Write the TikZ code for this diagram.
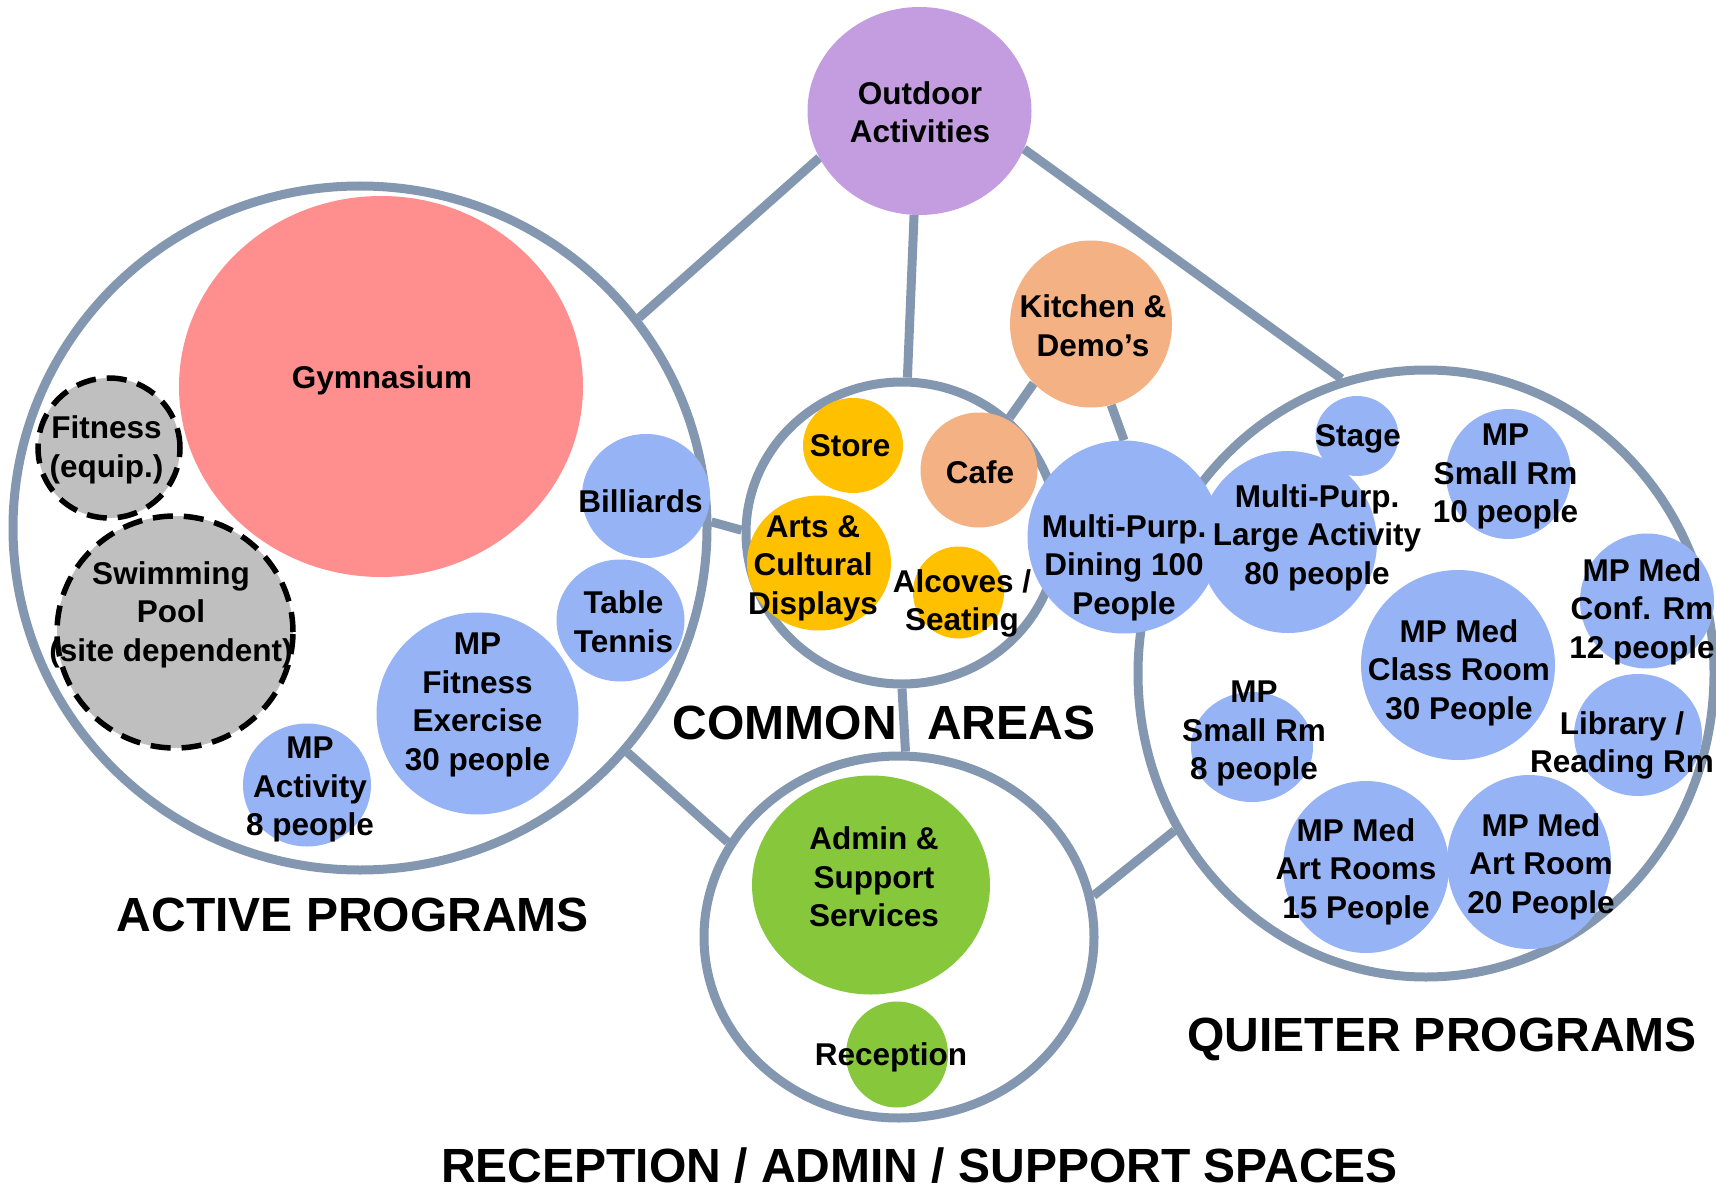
\documentclass[tikz,border=0pt]{standalone}
\usepackage{fontspec}
\setmainfont{Liberation Sans}
\usetikzlibrary{shapes.geometric,backgrounds}
\definecolor{ringc}{HTML}{8497B0}
\definecolor{pinkc}{HTML}{FF8F8F}
\definecolor{purpc}{HTML}{C39DE0}
\definecolor{orangec}{HTML}{F4B183}
\definecolor{goldc}{HTML}{FFC000}
\definecolor{bluec}{HTML}{96B3F6}
\definecolor{greenc}{HTML}{86C73B}
\definecolor{grayc}{HTML}{BFBFBF}
\tikzset{
  ring/.style={ellipse, draw=ringc, line width=9pt, inner sep=0pt},
  blob/.style={ellipse, fill=#1, draw=none, inner sep=0pt},
  dashblob/.style={ellipse, fill=grayc, draw=black, line width=5.5pt, dash pattern=on 20pt off 11pt, inner sep=0pt},
  conn/.style={draw=ringc, line width=9pt},
  txt/.style={align=center, inner sep=0pt, yshift=-3.5pt, font=\fontsize{31.5}{38.5}\selectfont\bfseries},
  captxt/.style={inner sep=0pt, font=\fontsize{48}{56}\selectfont\bfseries},
}
\begin{document}
\begin{tikzpicture}[x=1pt,y=-1pt]
\useasboundingbox (0,0) rectangle (1716,1190);
% rings
\node[ring, minimum width=694pt, minimum height=684pt] (active) at (360,528) {};
\node[ring, minimum width=312pt, minimum height=302pt] (common) at (902,533) {};
\node[ring, minimum width=390pt, minimum height=362pt] (recep) at (899,937) {};
\node[ring, minimum width=576pt, minimum height=607pt] (quiet) at (1426,673.5) {};
% circles
\node[blob=purpc, minimum width=224pt, minimum height=208pt] (outdoor) at (919.5,111) {};
\node[blob=pinkc, minimum width=404pt, minimum height=381pt] (gym) at (381,386.5) {};
\node[dashblob, minimum width=142pt, minimum height=140pt] (fitness) at (109,448) {};
\node[dashblob, minimum width=236pt, minimum height=232pt] (pool) at (175,632) {};
\node[blob=bluec, minimum width=128pt, minimum height=124pt] (billiards) at (646,496) {};
\node[blob=bluec, minimum width=128pt, minimum height=122pt] (tennis) at (620.5,620.5) {};
\node[blob=bluec, minimum width=202pt, minimum height=202pt] (mpfit) at (477.5,713.5) {};
\node[blob=bluec, minimum width=128pt, minimum height=123pt] (mpact) at (307,785) {};
\node[blob=goldc, minimum width=100pt, minimum height=95pt] (store) at (853,445.5) {};
\node[blob=orangec, minimum width=117pt, minimum height=115pt] (cafe) at (979,470) {};
\node[blob=goldc, minimum width=144pt, minimum height=135pt] (arts) at (819,563) {};
\node[blob=goldc, minimum width=91pt, minimum height=92pt] (alcoves) at (958.5,592.5) {};
\node[blob=orangec, minimum width=162pt, minimum height=167pt] (kitchen) at (1091,324) {};
\node[blob=bluec, minimum width=193pt, minimum height=193pt] (dining) at (1124,537) {};
\node[blob=greenc, minimum width=238pt, minimum height=219pt] (admin) at (871,885) {};
\node[blob=greenc, minimum width=102pt, minimum height=106pt] (recepc) at (897,1054.5) {};
\node[blob=bluec, minimum width=83pt, minimum height=80pt] (stage) at (1357,436) {};
\node[blob=bluec, minimum width=178pt, minimum height=182pt] (large) at (1288,542) {};
\node[blob=bluec, minimum width=125pt, minimum height=130pt] (small10) at (1508.5,474) {};
\node[blob=bluec, minimum width=134pt, minimum height=135pt] (conf) at (1647,601) {};
\node[blob=bluec, minimum width=194pt, minimum height=190pt] (class) at (1458,665) {};
\node[blob=bluec, minimum width=128pt, minimum height=122pt] (library) at (1638,735) {};
\node[blob=bluec, minimum width=122pt, minimum height=110pt] (small8) at (1252,747) {};
\node[blob=bluec, minimum width=166pt, minimum height=172pt] (art15) at (1366,867) {};
\node[blob=bluec, minimum width=164pt, minimum height=174pt] (art20) at (1529,862) {};
% connectors
\begin{pgfonlayer}{background}
\fill[white] (0,0) rectangle (1716,1190);
\draw[conn] (outdoor.205) -- (active.37);
\draw[conn] (outdoor.267) -- (common.88);
\draw[conn] (outdoor.340) -- (quiet.106);
\draw[conn] (kitchen.226) -- (common.47);
\draw[conn] (kitchen.284) -- (dining.90);
\draw[conn] (active.1) -- (common.179);
\draw[conn] (common.270) -- (recep.88);
\draw[conn] (active.320) -- (recep.151);
\draw[conn] (quiet.212) -- (recep.12);
\end{pgfonlayer}
% texts
\node[txt] (t-outdoor) at (920,108.5) {Outdoor\\Activities};
\node[txt] (t-gym) at (382,377) {Gymnasium};
\node[txt] (t-fitness) at (106.5,446.5) {Fitness\\(equip.)};
\node[txt] (t-pool) at (171,611) {Swimming\\Pool\\(site dependent)};
\node[txt] (t-billiards) at (640.5,498) {Billiards};
\node[txt] (t-tennis) at (623.5,618) {Table\\Tennis};
\node[txt] (t-mpfit) at (477.5,701.5) {MP\\Fitness\\Exercise\\30 people};
\node[txt] (t-mpact) at (310,786) {MP\\Activity\\8 people};
\node[txt] (t-store) at (850,442) {Store};
\node[txt] (t-cafe) at (980,469) {Cafe};
\node[txt] (t-arts) at (813,564.5) {Arts \&\\Cultural\\Displays};
\node[txt] (t-alcoves) at (962,600) {Alcoves /\\Seating};
\node[txt] (t-dining) at (1124,564) {Multi-Purp.\\Dining 100\\People};
\node[txt] (t-kitchen) at (1093,322) {Kitchen \&\\Demo’s};
\node[txt] (t-admin) at (874,873.5) {Admin \&\\Support\\Services};
\node[txt] (t-recep) at (891,1054) {Reception};
\node[txt] (t-stage) at (1358,435.5) {Stage};
\node[txt] (t-large) at (1317,534) {Multi-Purp.\\Large Activity\\80 people};
\node[txt] (t-small10) at (1505.5,473) {MP\\Small Rm\\10 people};
\node[txt] (t-conf) at (1642,608) {MP Med\\Conf. Rm\\12 people};
\node[txt] (t-class) at (1459,669) {MP Med\\Class Room\\30 People};
\node[txt] (t-library) at (1622,742) {Library /\\Reading Rm};
\node[txt] (t-small8) at (1254,730) {MP\\Small Rm\\8 people};
\node[txt] (t-art15) at (1356,868) {MP Med\\Art Rooms\\15 People};
\node[txt] (t-art20) at (1541,863) {MP Med\\Art Room\\20 People};
% captions
\node[captxt, anchor=base] (c-active) at (353,931) {ACTIVE PROGRAMS};
\node[captxt, anchor=base east] (c-common) at (897,739) {COMMON};
\node[captxt, anchor=base west] (c-areas) at (927,739) {AREAS};
\node[captxt, anchor=base] (c-quiet) at (1442,1051) {QUIETER PROGRAMS};
\node[captxt, anchor=base] (c-recep) at (919.5,1182) {RECEPTION / ADMIN / SUPPORT SPACES};
\end{tikzpicture}
\end{document}
